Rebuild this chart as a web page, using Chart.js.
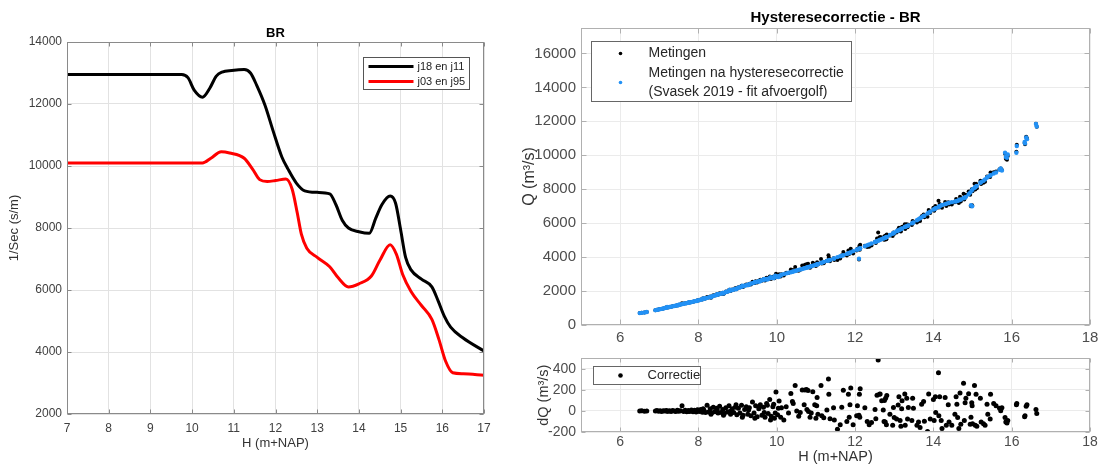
<!DOCTYPE html>
<html>
<head>
<meta charset="utf-8">
<script src="https://cdn.jsdelivr.net/npm/chart.js@4.4.1/dist/chart.umd.min.js"></script>
<style>
  html, body { margin: 0; padding: 0; background: #fff; width: 1107px; height: 467px; overflow: hidden; }
  canvas { position: absolute; }
  #secChart { left: 0; top: 0; }
  #qChart { left: 512px; top: 0; }
  #dqChart { left: 512px; top: 345px; }
</style>
</head>
<body>
<canvas id="secChart" width="505" height="467"></canvas>
<canvas id="qChart" width="595" height="345"></canvas>
<canvas id="dqChart" width="595" height="122"></canvas>
<script>
// 1/Sec per waterstand (BR)
const hJ18 = [7, 9.75, 9.9, 10.05, 10.25, 10.42, 10.58, 10.72, 10.95, 11.25, 11.4, 11.55, 11.75, 11.95, 12.15, 12.3, 12.5, 12.7, 13.0, 13.3, 13.45, 13.6, 13.75, 14.0, 14.25, 14.4, 14.55, 14.75, 14.88, 15.0, 15.12, 15.25, 15.5, 15.75, 15.9, 16.05, 16.2, 16.5, 17];
const secJ18 = [12950, 12950, 12850, 12450, 12220, 12500, 12900, 13030, 13080, 13110, 13000, 12600, 11950, 11100, 10300, 9900, 9450, 9200, 9150, 9100, 8750, 8250, 8000, 7880, 7830, 8300, 8750, 9030, 8800, 7950, 7050, 6650, 6350, 6100, 5650, 5150, 4800, 4450, 4030];
const hJ03 = [7, 10.25, 10.45, 10.7, 10.9, 11.25, 11.45, 11.62, 11.8, 12.0, 12.25, 12.4, 12.52, 12.62, 12.75, 13.0, 13.3, 13.5, 13.75, 14.0, 14.3, 14.5, 14.75, 14.9, 15.05, 15.25, 15.5, 15.75, 15.92, 16.08, 16.25, 16.5, 17];
const secJ03 = [10100, 10100, 10250, 10460, 10420, 10250, 9900, 9560, 9500, 9530, 9580, 9250, 8500, 7800, 7350, 7050, 6750, 6400, 6100, 6200, 6450, 6950, 7460, 7150, 6500, 5950, 5500, 5050, 4400, 3700, 3330, 3300, 3250];
const secXTicks = [7, 8, 9, 10, 11, 12, 13, 14, 15, 16, 17];
const secYTicks = [2000, 4000, 6000, 8000, 10000, 12000, 14000];

// Metingen: waterstand H, afvoer na correctie en de correctie dQ
const hMeas = [
  6.50, 6.55, 6.62, 6.68, 6.90, 6.94, 6.98, 7.02, 7.06, 7.10, 7.14, 7.18, 7.20, 7.22, 7.26, 7.30, 7.34, 7.38, 7.42, 7.46, 7.48, 7.50,
  7.54, 7.58, 7.62, 7.66, 7.70, 7.74, 7.76, 7.78, 7.82, 7.86, 7.90, 7.94, 7.96, 7.98, 8.02, 8.06, 8.10, 8.12, 8.14, 8.18, 8.22, 8.26,
  8.30, 8.32, 8.34, 8.38, 8.42, 8.46, 8.48, 8.50, 8.54, 8.58, 8.62, 8.64, 8.66, 8.70, 8.74, 8.78, 8.80, 8.82, 8.86, 8.90, 8.94, 8.96,
  8.98, 9.02, 9.06, 9.10, 9.12, 9.14, 9.18, 9.22, 9.26, 9.28, 9.30, 9.34, 9.38, 9.42, 9.44, 9.46, 9.50, 9.54, 9.56, 9.58, 9.62, 9.66,
  9.68, 9.70, 9.74, 9.76, 9.78, 9.82, 9.84, 9.86, 9.90, 9.92, 9.94, 9.96, 9.98, 10.02, 10.04, 10.06, 10.10, 10.12, 10.18,
  10.24, 10.30, 10.36, 10.40, 10.42, 10.47, 10.51, 10.56, 10.60, 10.65, 10.70, 10.72, 10.76, 10.77, 10.80, 10.81, 10.85, 10.88,
  10.92, 10.97, 11.00, 11.02, 11.03, 11.05, 11.13, 11.15, 11.20, 11.28, 11.32, 11.33, 11.36, 11.45, 11.47, 11.55, 11.62, 11.66,
  11.70, 11.79, 11.83, 11.85, 11.87, 11.89, 11.95, 12.04, 12.06, 12.10, 12.11, 12.12, 12.13, 12.25, 12.31, 12.36, 12.42, 12.51,
  12.53, 12.56, 12.59, 12.62, 12.64, 12.68, 12.72, 12.74, 12.75, 12.77, 12.78, 12.80, 12.81, 12.89, 12.96, 12.98, 13.00, 13.06,
  13.10, 13.12, 13.15, 13.17, 13.19, 13.20, 13.27, 13.28, 13.32, 13.34, 13.36, 13.45, 13.47, 13.49, 13.58, 13.62, 13.66, 13.70,
  13.75, 13.77, 13.85, 13.88, 13.92, 14.00, 14.02, 14.05, 14.06, 14.13, 14.14, 14.16, 14.20, 14.22, 14.30, 14.33, 14.38, 14.40,
  14.47, 14.55, 14.58, 14.60, 14.62, 14.65, 14.68, 14.70, 14.77, 14.79, 14.81, 14.83, 14.90, 14.94, 14.96, 14.98, 14.99, 15.00,
  15.05, 15.07, 15.09, 15.11, 15.20, 15.22, 15.28, 15.32, 15.37, 15.39, 15.45, 15.46, 15.54, 15.60, 15.69, 15.72, 15.75, 15.83,
  15.85, 15.88, 15.90, 16.12, 16.13, 16.33, 16.34, 16.37, 16.39, 16.62, 16.64
];
const qCorr = [
  700, 715, 740, 770, 875, 890, 910, 935, 950, 975, 1000, 1020, 1065, 1040, 1060, 1080, 1100, 1120, 1140, 1165, 1160, 1190,
  1210, 1230, 1250, 1270, 1290, 1310, 1340, 1330, 1350, 1375, 1395, 1420, 1410, 1440, 1465, 1490, 1520, 1560, 1545, 1575, 1600, 1630,
  1655, 1630, 1685, 1715, 1745, 1770, 1820, 1800, 1830, 1855, 1885, 1860, 1910, 1945, 1975, 2005, 2080, 2035, 2065, 2095, 2130, 2110,
  2160, 2195, 2225, 2255, 2310, 2285, 2315, 2345, 2375, 2350, 2405, 2435, 2465, 2495, 2540, 2525, 2555, 2585, 2560, 2610, 2640, 2660,
  2720, 2685, 2710, 2680, 2730, 2755, 2810, 2775, 2800, 2760, 2820, 2900, 2840, 2865, 2830, 2890, 2920, 2960, 3000,
  3040, 3080, 3110, 3140, 3150, 3180, 3210, 3250, 3270, 3300, 3340, 3350, 3380, 3390, 3410, 3420, 3440, 3460,
  3490, 3530, 3550, 3560, 3570, 3590, 3650, 3670, 3710, 3780, 3800, 3810, 3830, 3910, 3920, 4000, 4050, 4080,
  4110, 4190, 4230, 4240, 4260, 4280, 4350, 4440, 4450, 3900, 4500, 4500, 4520, 4640, 4700, 4740, 4800, 4890,
  4910, 4940, 4970, 5000, 5020, 5060, 5100, 5120, 5130, 5140, 5150, 5180, 5190, 5300, 5380, 5420, 5440, 5520,
  5570, 5590, 5630, 5650, 5680, 5690, 5770, 5790, 5820, 5840, 5870, 5990, 6010, 6040, 6170, 6230, 6290, 6350,
  6420, 6440, 6570, 6620, 6680, 6800, 6830, 6870, 6880, 6960, 6970, 7000, 7050, 7070, 7120, 7150, 7180, 7200,
  7240, 7270, 7290, 7300, 7320, 7350, 7380, 7400, 7470, 7490, 7520, 7550, 7700, 7800, 7060, 7920, 7000, 8000,
  8080, 8120, 8160, 8200, 8380, 8420, 8500, 8580, 8690, 8730, 8800, 8830, 8930, 8990, 9150, 9220, 9100, 10150,
  9900, 9850, 10050, 10150, 10550, 10780, 10700, 11050, 10950, 11850, 11700
];
const dQ = [
  0, 2, -3, 0, 0, 4, -2, 1, -4, 3, -1, 5, -2, -3, 2, -5, 4, 0, -6, 6, 3, -2,
  3, 50, -4, 8, -7, 5, -5, -3, 10, -8, 6, -10, 8, 12, -5, 15, -12, 20, 8, -15, 55, -10,
  20, -30, -18, 35, -8, 25, 10, -20, 45, -15, 15, -40, -25, 30, -10, 50, -5, -30, 20, -15, 35, 60,
  -35, 25, -20, 55, -60, -40, 15, 40, -30, 10, 30, -45, 85, -20, -70, 50, -55, 20, 45, 60, -40, 35,
  -15, -60, 70, 55, -25, 110, -85, -50, 40, 65, -70, -20, 180, -35, 25, 95, -60, 30, -85,
  40, -20, 167, 90, 70, 242, 0, -50, -15, 200, 60, 200, 205, 15, 195, -5, -60, -20,
  182, 60, -70, 50, 127, -30, 242, -45, -65, 10, 303, 160, -75, 30, -85, -175, -130, 36,
  197, -100, 160, -60, 60, 218, -130, -45, 50, -40, 160, -60, 212, 30, -100, -130, -110, 15,
  -75, 150, 485, 160, 161, 97, 9, -100, 100, -106, 121, -130, 148, -30, -136, 33, -61, -76,
  57, 136, -91, -145, 21, 97, 161, -136, 121, -76, 33, -91, 121, 27, -136, -106, -157, 64,
  91, -97, -195, 161, -76, 109, -91, 136, -15, 364, -45, 136, -91, -167, 127, -136, 60, -106,
  -136, -30, 136, 64, -61, -167, 170, -127, 264, -91, 79, 121, 164, -127, -60, 79, 50, -121,
  242, -136, 158, -145, 121, -106, -121, -136, 64, -30, -76, 158, 70, 49, 27, 3, 30, -61,
  -106, -115, -90, 60, 70, -55, -45, 45, 60, 15, -24
];
// gemeten afvoer = gecorrigeerde afvoer + correctie
const qMeas = qCorr.map((q, i) => q + dQ[i]);

const hTicks = [6, 8, 10, 12, 14, 16, 18];
const qTicks = [0, 2000, 4000, 6000, 8000, 10000, 12000, 14000, 16000];
const dqTicks = [-200, 0, 200, 400];

const FONT = "'Liberation Sans', Arial, Helvetica, sans-serif";
Chart.defaults.font.family = FONT;

const pts = (xs, ys) => xs.map((x, i) => ({ x: x, y: ys[i] }));
const setTicks = vals => scale => { scale.ticks = vals.map(v => ({ value: v })); };

// axes box, inward tick marks, title and legend in MATLAB style
const decor = {
  id: 'decor',
  afterDraw(chart, args, o) {
    const ctx = chart.ctx;
    const a = chart.chartArea;
    const xs = chart.scales.x, ys = chart.scales.y;
    const L = Math.round(a.left) + 0.5, R = Math.round(a.right) - 0.5;
    const T = Math.round(a.top) + 0.5, B = Math.round(a.bottom) - 0.5;
    ctx.save();
    ctx.strokeStyle = o.box;
    ctx.lineWidth = 1;
    ctx.beginPath();
    xs.ticks.forEach(t => {
      const p = Math.round(xs.getPixelForValue(t.value)) + 0.5;
      ctx.moveTo(p, B); ctx.lineTo(p, B - o.tick);
      ctx.moveTo(p, T); ctx.lineTo(p, T + o.tick);
    });
    ys.ticks.forEach(t => {
      const p = Math.round(ys.getPixelForValue(t.value)) + 0.5;
      ctx.moveTo(L, p); ctx.lineTo(L + o.tick, p);
      ctx.moveTo(R, p); ctx.lineTo(R - o.tick, p);
    });
    ctx.stroke();
    ctx.strokeRect(L, T, R - L, B - T);

    if (o.title) {
      ctx.fillStyle = '#000';
      ctx.font = o.titleFont;
      ctx.textAlign = 'center';
      ctx.textBaseline = 'middle';
      ctx.fillText(o.title, (a.left + a.right) / 2, o.titleY);
    }

    const lg = o.legend;
    if (lg) {
      const bx = Math.round(a.left + lg.x) + 0.5, by = Math.round(a.top + lg.y) + 0.5;
      ctx.fillStyle = '#fff';
      ctx.fillRect(bx, by, lg.w, lg.h);
      ctx.strokeStyle = lg.border;
      ctx.lineWidth = 1;
      ctx.strokeRect(bx, by, lg.w, lg.h);
      ctx.font = lg.font;
      ctx.textAlign = 'left';
      ctx.textBaseline = 'middle';
      lg.items.forEach(it => {
        if (it.kind === 'line') {
          ctx.strokeStyle = it.color;
          ctx.lineWidth = 3;
          ctx.beginPath();
          ctx.moveTo(bx + lg.mx, by + it.y);
          ctx.lineTo(bx + lg.mx + lg.mw, by + it.y);
          ctx.stroke();
        } else {
          ctx.fillStyle = it.color;
          ctx.beginPath();
          ctx.arc(bx + lg.mx, by + it.y, it.r, 0, Math.PI * 2);
          ctx.fill();
        }
        ctx.fillStyle = lg.color;
        it.text.forEach((s, k) => {
          ctx.fillText(s, bx + lg.tx, by + it.y + (k - (it.text.length - 1) / 2) * lg.lh);
        });
      });
    }
    ctx.restore();
  }
};

function axisX(opts) {
  return {
    type: 'linear', min: opts.min, max: opts.max,
    afterBuildTicks: setTicks(opts.ticks),
    afterFit: s => { s.height = opts.height; },
    grid: { color: opts.grid, drawTicks: false },
    border: { display: false },
    ticks: {
      autoSkip: false, maxRotation: 0, padding: opts.pad, color: opts.tickColor,
      font: { size: opts.size }, callback: v => String(v)
    },
    title: opts.title ? {
      display: true, text: opts.title, color: opts.titleColor,
      font: { size: opts.titleSize }, padding: { top: 0, bottom: opts.titlePad }
    } : { display: false }
  };
}

function axisY(opts) {
  return {
    type: 'linear', min: opts.min, max: opts.max,
    afterBuildTicks: setTicks(opts.ticks),
    afterFit: s => { s.width = opts.width; },
    grid: { color: opts.grid, drawTicks: false },
    border: { display: false },
    ticks: {
      autoSkip: false, padding: opts.pad, color: opts.tickColor,
      font: { size: opts.size }, callback: v => String(v)
    },
    title: {
      display: true, text: opts.title, color: opts.titleColor,
      font: { size: opts.titleSize }, padding: { top: opts.titlePad, bottom: 0 }
    }
  };
}

const base = {
  responsive: false,
  animation: false,
  devicePixelRatio: 1,
  events: []
};

// Links: 1/Sec tegen H
new Chart(document.getElementById('secChart'), {
  type: 'scatter',
  data: {
    datasets: [
      {
        label: 'j18 en j11', data: pts(hJ18, secJ18), showLine: true,
        borderColor: '#000000', borderWidth: 3, pointRadius: 0,
        cubicInterpolationMode: 'monotone'
      },
      {
        label: 'j03 en j95', data: pts(hJ03, secJ03), showLine: true,
        borderColor: '#ff0000', borderWidth: 3, pointRadius: 0,
        cubicInterpolationMode: 'monotone'
      }
    ]
  },
  options: Object.assign({}, base, {
    layout: { padding: { top: 42, right: 21, left: 0, bottom: 0 } },
    plugins: {
      legend: { display: false }, tooltip: { enabled: false }, title: { display: false },
      decor: {
        box: '#8a8a8a', tick: 4, title: 'BR', titleFont: 'bold 13px ' + FONT, titleY: 33,
        legend: {
          x: 296, y: 15, w: 106, h: 32, border: '#555', font: '11px ' + FONT, color: '#222', lh: 13,
          mx: 5, mw: 45, tx: 54,
          items: [
            { kind: 'line', color: '#000000', y: 9, text: ['j18 en j11'] },
            { kind: 'line', color: '#ff0000', y: 24, text: ['j03 en j95'] }
          ]
        }
      }
    },
    scales: {
      x: axisX({ min: 7, max: 17, ticks: secXTicks, height: 53, grid: '#e2e2e2', pad: 7, tickColor: '#404040', size: 12,
                 title: 'H (m+NAP)', titleColor: '#333', titleSize: 13, titlePad: 16 }),
      y: axisY({ min: 2000, max: 14000, ticks: secYTicks, width: 67, grid: '#e2e2e2', pad: 5, tickColor: '#404040', size: 12,
                 title: '1/Sec (s/m)', titleColor: '#333', titleSize: 13, titlePad: 7 })
    }
  }),
  plugins: [decor]
});

// Rechtsboven: Q tegen H, voor en na hysteresecorrectie
new Chart(document.getElementById('qChart'), {
  type: 'scatter',
  data: {
    datasets: [
      {
        label: 'Metingen', data: pts(hMeas, qMeas), order: 1,
        pointRadius: 2, pointBorderWidth: 0, pointBackgroundColor: '#000000'
      },
      {
        label: 'Metingen na hysteresecorrectie', data: pts(hMeas, qCorr), order: 0,
        pointRadius: 2.2, pointBorderWidth: 0, pointBackgroundColor: '#2291f5'
      }
    ]
  },
  options: Object.assign({}, base, {
    layout: { padding: { top: 28, right: 17, left: 0, bottom: 0 } },
    plugins: {
      legend: { display: false }, tooltip: { enabled: false }, title: { display: false },
      decor: {
        box: '#b0b0b0', tick: 5, title: 'Hysteresecorrectie - BR', titleFont: 'bold 15px ' + FONT, titleY: 18,
        legend: {
          x: 10, y: 13, w: 260, h: 60, border: '#666', font: '14px ' + FONT, color: '#262626', lh: 19,
          mx: 29, mw: 0, tx: 57,
          items: [
            { kind: 'dot', color: '#000000', r: 1.8, y: 12, text: ['Metingen'] },
            { kind: 'dot', color: '#2291f5', r: 1.8, y: 41, text: ['Metingen na hysteresecorrectie', '(Svasek 2019 - fit afvoergolf)'] }
          ]
        }
      }
    },
    scales: {
      x: axisX({ min: 5, max: 18, ticks: hTicks, height: 20, grid: '#ebebeb', pad: 4, tickColor: '#4d4d4d', size: 15 }),
      y: axisY({ min: 0, max: 17500, ticks: qTicks, width: 69, grid: '#ebebeb', pad: 5, tickColor: '#4d4d4d', size: 15,
                 title: 'Q (m³/s)', titleColor: '#333', titleSize: 16, titlePad: 8 })
    }
  }),
  plugins: [decor]
});

// Rechtsonder: correctie dQ tegen H
new Chart(document.getElementById('dqChart'), {
  type: 'scatter',
  data: {
    datasets: [
      {
        label: 'Correctie', data: pts(hMeas, dQ),
        pointRadius: 2.5, pointBorderWidth: 0, pointBackgroundColor: '#000000'
      }
    ]
  },
  options: Object.assign({}, base, {
    layout: { padding: { top: 10, right: 17, left: 0, bottom: 0 } },
    plugins: {
      legend: { display: false }, tooltip: { enabled: false }, title: { display: false },
      decor: {
        box: '#b0b0b0', tick: 4,
        legend: {
          x: 12, y: 8, w: 107, h: 18, border: '#666', font: '13px ' + FONT, color: '#262626', lh: 15,
          mx: 27, mw: 0, tx: 54,
          items: [
            { kind: 'dot', color: '#000000', r: 2.3, y: 9, text: ['Correctie'] }
          ]
        }
      }
    },
    scales: {
      x: axisX({ min: 5, max: 18, ticks: hTicks, height: 35, grid: '#ebebeb', pad: 2, tickColor: '#4d4d4d', size: 14,
                 title: 'H (m+NAP)', titleColor: '#333', titleSize: 14.5, titlePad: 1 }),
      y: axisY({ min: -200, max: 500, ticks: dqTicks, width: 69, grid: '#ebebeb', pad: 5, tickColor: '#4d4d4d', size: 14,
                 title: 'dQ (m³/s)', titleColor: '#333', titleSize: 14.5, titlePad: 23 })
    }
  }),
  plugins: [decor]
});
</script>
</body>
</html>
